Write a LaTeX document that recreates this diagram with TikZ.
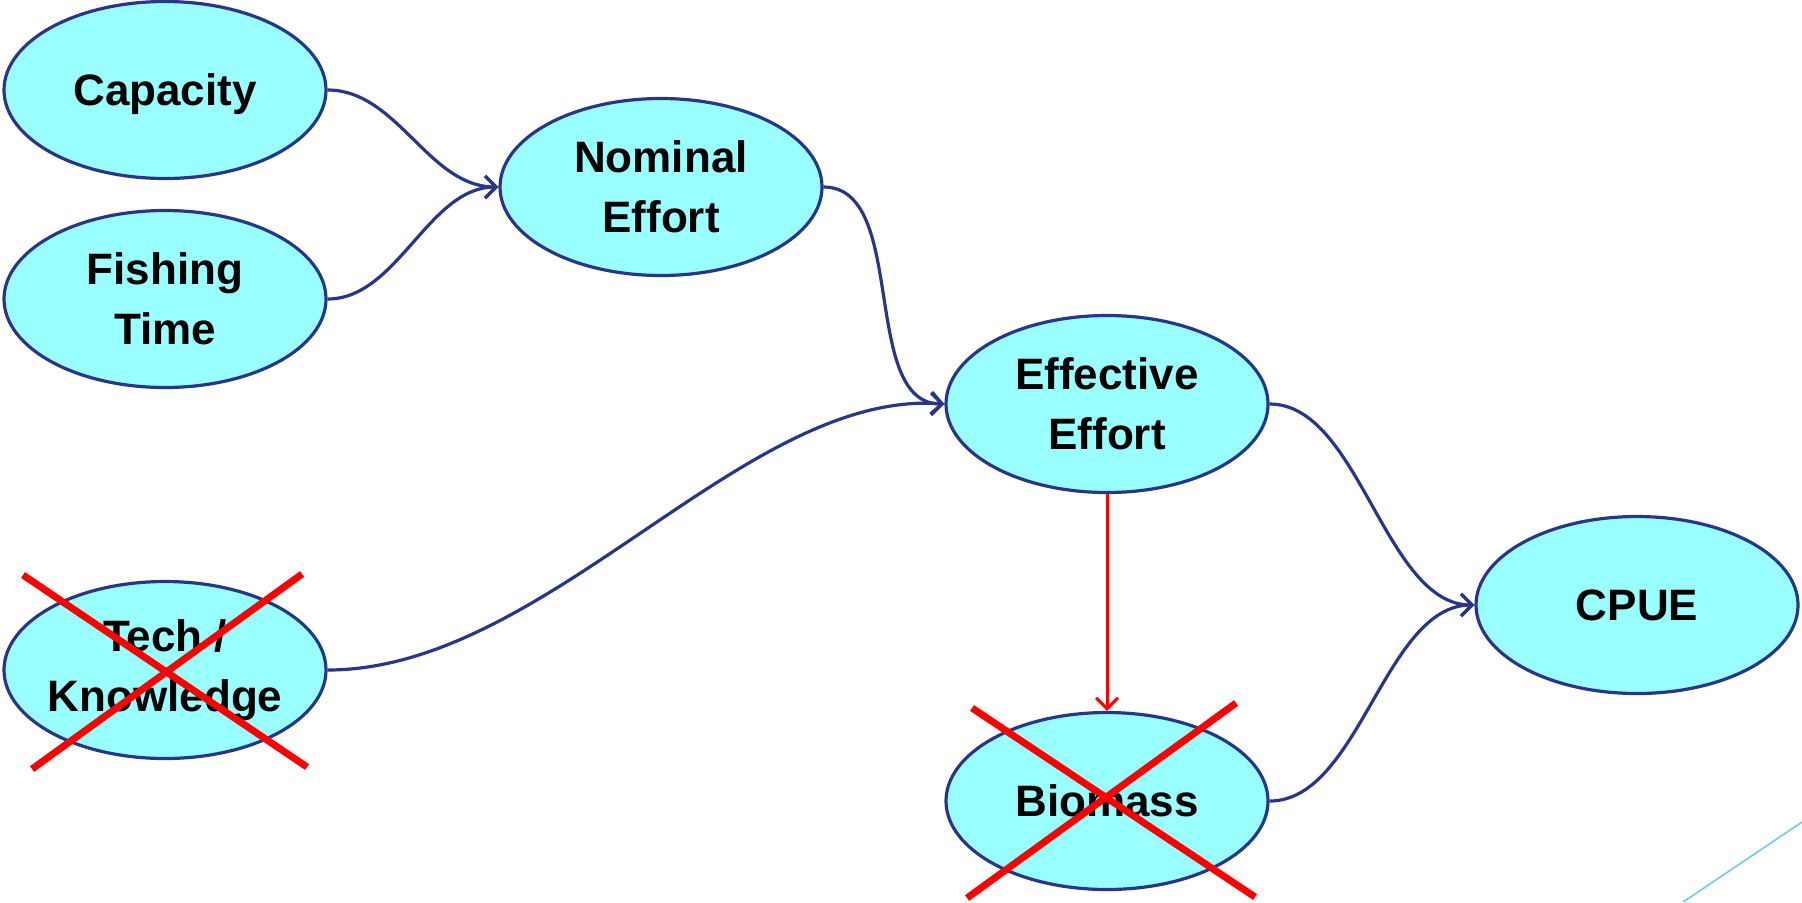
\documentclass[tikz,border=0pt]{standalone}
\usepackage{fontspec}
\setmainfont{Liberation Sans}
\usetikzlibrary{arrows.meta,shapes.geometric}
\definecolor{nodefill}{RGB}{153,255,255}
\definecolor{navy}{RGB}{40,54,138}
\definecolor{crossred}{RGB}{255,0,0}
\definecolor{skyline}{RGB}{110,200,240}
\begin{document}
\begin{tikzpicture}[x=0.5pt,y=-0.5pt,
  ell/.style={ellipse, draw=navy, fill=nodefill, line width=1.6pt,
    minimum width=161pt, minimum height=88.5pt, inner ysep=0pt, inner xsep=-3pt,
    align=center, font=\fontsize{22}{30}\selectfont\bfseries},
  link/.style={draw=navy, line width=1.6pt,
    -{Straight Barb[length=5.5pt,width=11pt]}},
  redlink/.style={draw=crossred, line width=1.5pt,
    -{Straight Barb[length=5.5pt,width=11pt]}},
  xline/.style={draw=crossred, line width=3.5pt},
]
\path[use as bounding box] (0,0) rectangle (1802,902);

\node[ell, text depth=0pt] (cap) at (165,90) {Capacity};
\node[ell] (fish) at (165,299) {Fishing\\Time};
\node[ell] (nom) at (661,187) {Nominal\\Effort};
\node[ell] (eff) at (1107,404) {Effective\\Effort};
\node[ell] (tech) at (165,670) {Tech /\\Knowledge};
\node[ell] (bio) at (1107,801) {Biomass};
\node[ell] (cpue) at (1637,605) {CPUE};

\draw[link] (cap.east) .. controls +(70,0) and +(-70,0) .. (nom.west);
\draw[link] (fish.east) .. controls +(70,0) and +(-70,0) .. (nom.west);
\draw[link] (nom.east) .. controls +(85,0) and +(-85,0) .. (eff.west);
\draw[link] (tech.east) .. controls +(220,0) and +(-200,-15) .. (eff.west);
\draw[link] (eff.east) .. controls +(90,0) and +(-90,0) .. (cpue.west);
\draw[link] (bio.east) .. controls +(90,0) and +(-90,0) .. (cpue.west);
\draw[redlink] (eff.south) -- (bio.north);

\draw[xline] (23,575) -- (307,767);
\draw[xline] (32,769) -- (302,574);
\draw[xline] (972,708) -- (1255,897);
\draw[xline] (967,898) -- (1236,703);

\draw[skyline, line width=0.8pt] (1683,902) -- (1802,822);
\end{tikzpicture}
\end{document}
